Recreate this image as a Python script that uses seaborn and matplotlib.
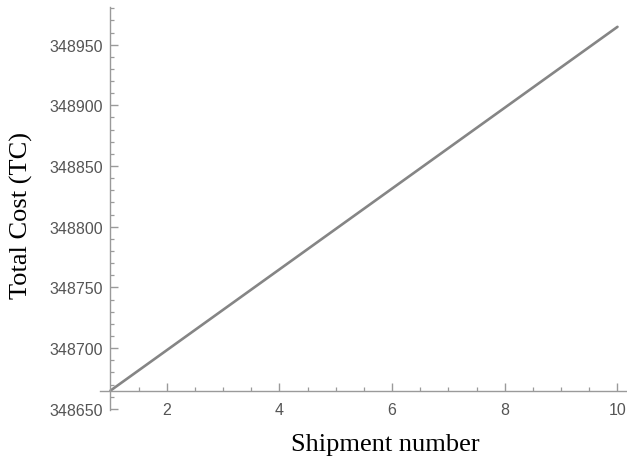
import matplotlib
matplotlib.use("Agg")
import matplotlib.pyplot as plt
from matplotlib.ticker import MultipleLocator, FixedLocator
import seaborn as sns
import pandas as pd

# Total cost for each shipment number
shipments = [1, 2, 3, 4, 5, 6, 7, 8, 9, 10]
total_cost = [348665.0, 348698.3, 348731.6, 348764.9, 348798.2,
              348831.5, 348864.8, 348898.1, 348931.4, 348964.7]
x_major = [2, 4, 6, 8, 10]
y_major = [348650, 348700, 348750, 348800, 348850, 348900, 348950]

df = pd.DataFrame({"Shipment number": shipments, "Total Cost (TC)": total_cost})

sns.set_style("white")
plt.rcParams["font.family"] = ["Liberation Sans", "DejaVu Sans"]

axis_gray = "#9a9a9a"
label_gray = "#555555"

fig = plt.figure(figsize=(6.27, 4.6), dpi=100)
ax = fig.add_axes([0.1595, 0.1065, 0.8405, 0.876])

sns.lineplot(data=df, x="Shipment number", y="Total Cost (TC)", ax=ax,
             color="#858585", linewidth=1.9)

ax.set_xlim(0.814, 10.169)
ax.set_ylim(348649, 348981)

# axes cross at the first point, Mathematica style
ax.spines["left"].set_position(("data", 1))
ax.spines["bottom"].set_position(("data", 348665))
for s in ("top", "right"):
    ax.spines[s].set_visible(False)
for s in ("left", "bottom"):
    ax.spines[s].set_color(axis_gray)
    ax.spines[s].set_linewidth(1.0)

ax.xaxis.set_major_locator(FixedLocator(x_major))
ax.xaxis.set_minor_locator(FixedLocator([1.5, 2.5, 3, 3.5, 4.5, 5, 5.5, 6.5, 7,
                                         7.5, 8.5, 9, 9.5]))
ax.yaxis.set_major_locator(FixedLocator(y_major))
ax.yaxis.set_minor_locator(MultipleLocator(10))

ax.tick_params(which="both", bottom=True, left=True, top=False, right=False)
ax.tick_params(which="major", direction="in", length=5.5, width=1.0,
               color=axis_gray, labelcolor=label_gray, labelsize=11.5)
ax.tick_params(which="minor", direction="in", length=3, width=0.9,
               color=axis_gray)
ax.tick_params(axis="x", which="major", pad=8)
ax.tick_params(axis="y", which="major", pad=5.5)

ax.set_xlabel("Shipment number", family=["Liberation Serif"], fontsize=19,
              color="black")
ax.set_ylabel("Total Cost (TC)", family=["Liberation Serif"], fontsize=19,
              color="black")
ax.xaxis.set_label_coords(0.541, -0.058)
ax.yaxis.set_label_coords(-0.127, 0.484)

fig.savefig("out.png", dpi=100)
